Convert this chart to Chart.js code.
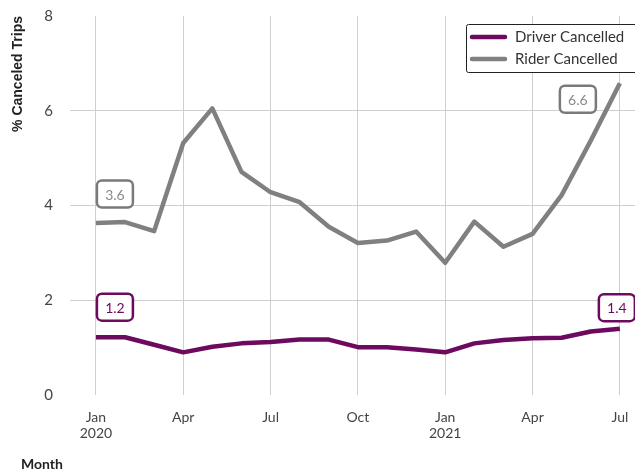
<!DOCTYPE html>
<html>
<head>
  <title>Canceled Trips</title>
  <script src="https://cdn.jsdelivr.net/npm/chart.js"></script>
  <style>
    body { margin: 0; background: #fff; }
  </style>
</head>
<body>
  <canvas id="tripsChart" width="635" height="470"></canvas>

  <script>
    // monthly share of canceled trips, Jan 2020 .. Jul 2021
    const months = [
      "Jan 2020", "Feb 2020", "Mar 2020", "Apr 2020", "May 2020", "Jun 2020",
      "Jul 2020", "Aug 2020", "Sep 2020", "Oct 2020", "Nov 2020", "Dec 2020",
      "Jan 2021", "Feb 2021", "Mar 2021", "Apr 2021", "May 2021", "Jun 2021", "Jul 2021"
    ];
    const driverCancelled = [1.22, 1.22, 1.06, 0.90, 1.02, 1.09, 1.12, 1.17, 1.17, 1.01,
                             1.01, 0.96, 0.90, 1.09, 1.16, 1.20, 1.21, 1.34, 1.40];
    const riderCancelled = [3.63, 3.65, 3.46, 5.32, 6.05, 4.71, 4.28, 4.07, 3.55, 3.21,
                            3.26, 3.45, 2.79, 3.66, 3.13, 3.40, 4.22, 5.37, 6.58];

    const xTickIndex = [0, 3, 6, 9, 12, 15, 18];
    const xTickLabels = [["Jan", "2020"], "Apr", "Jul", "Oct", ["Jan", "2021"], "Apr", "Jul"];
    const yTicks = [0, 2, 4, 6, 8];

    const PURPLE = "#6b0a5e";
    const GREY = "#808080";

    // value boxes: which series/point, and where the box sits relative to the point
    const callouts = [
      { ds: 1, idx: 0, dx: 19, dy: -29, color: "#7a7a7a", text: "#8a8a8a" },
      { ds: 0, idx: 0, dx: 19, dy: -30, color: PURPLE, text: PURPLE },
      { ds: 0, idx: 18, dx: -3, dy: -21, color: PURPLE, text: PURPLE },
      { ds: 1, idx: 18, dx: -42, dy: 16, color: "#7a7a7a", text: "#8a8a8a" }
    ];

    function roundRect(ctx, x, y, w, h, r) {
      ctx.beginPath();
      ctx.moveTo(x + r, y);
      ctx.arcTo(x + w, y, x + w, y + h, r);
      ctx.arcTo(x + w, y + h, x, y + h, r);
      ctx.arcTo(x, y + h, x, y, r);
      ctx.arcTo(x, y, x + w, y, r);
      ctx.closePath();
    }

    const extrasPlugin = {
      id: "extras",
      afterDatasetsDraw(chart) {
        const ctx = chart.ctx;
        const xs = chart.scales.x, ys = chart.scales.y;
        ctx.save();

        // callout boxes
        callouts.forEach(c => {
          const val = chart.data.datasets[c.ds].data[c.idx];
          const cx = xs.getPixelForValue(val.x) + c.dx;
          const cy = ys.getPixelForValue(val.y) + c.dy;
          const w = 36, h = 27;
          roundRect(ctx, cx - w / 2, cy - h / 2, w, h, 5);
          ctx.fillStyle = "#fff";
          ctx.fill();
          ctx.lineWidth = 2.5;
          ctx.strokeStyle = c.color;
          ctx.stroke();
          ctx.fillStyle = c.text;
          ctx.font = "14px Lato";
          ctx.textAlign = "center";
          ctx.textBaseline = "middle";
          ctx.fillText(val.y.toFixed(1), cx, cy + 1);
        });

        // legend box
        roundRect(ctx, 466.5, 24.5, 180, 48, 2);
        ctx.fillStyle = "#fff";
        ctx.fill();
        ctx.lineWidth = 1;
        ctx.strokeStyle = "#222";
        ctx.stroke();
        chart.data.datasets.forEach((ds, i) => {
          const y = 37 + i * 22;
          ctx.beginPath();
          ctx.moveTo(472, y);
          ctx.lineTo(505, y);
          ctx.lineWidth = 4.5;
          ctx.lineCap = "round";
          ctx.strokeStyle = ds.borderColor;
          ctx.stroke();
          ctx.fillStyle = "#333";
          ctx.font = "15px Lato";
          ctx.textAlign = "left";
          ctx.textBaseline = "middle";
          ctx.fillText(ds.label, 515, y);
        });

        // x axis title, bottom left
        ctx.fillStyle = "#222";
        ctx.font = "bold 14px Lato";
        ctx.textAlign = "left";
        ctx.textBaseline = "middle";
        ctx.fillText("Month", 21, 464);
        ctx.restore();
      }
    };

    const tripsChart = new Chart(document.getElementById("tripsChart"), {
      type: "line",
      data: {
        datasets: [
          {
            label: "Driver Cancelled",
            data: driverCancelled.map((v, i) => ({ x: i, y: v })),
            borderColor: PURPLE,
            borderWidth: 4.5,
            pointRadius: 0,
            tension: 0,
            borderJoinStyle: "round"
          },
          {
            label: "Rider Cancelled",
            data: riderCancelled.map((v, i) => ({ x: i, y: v })),
            borderColor: GREY,
            borderWidth: 4.5,
            pointRadius: 0,
            tension: 0,
            borderJoinStyle: "round"
          }
        ]
      },
      options: {
        responsive: false,
        devicePixelRatio: 1,
        animation: false,
        layout: { padding: { top: 16, right: 0, bottom: 30, left: 0 } },
        plugins: {
          legend: { display: false },
          tooltip: { enabled: false }
        },
        scales: {
          x: {
            type: "linear",
            min: -0.89,
            max: 18.52,
            afterBuildTicks: scale => { scale.ticks = xTickIndex.map(v => ({ value: v })); },
            afterFit: scale => {
              scale.height = 45;
              scale.paddingLeft = 0;
              scale.paddingRight = 0;
            },
            grid: { color: "#cfcfcf", drawTicks: false },
            border: { display: false },
            ticks: {
              padding: 15,
              maxRotation: 0,
              autoSkip: false,
              color: "#444",
              font: { family: "Lato", size: 14, lineHeight: 1.1 },
              callback: v => xTickLabels[xTickIndex.indexOf(v)]
            }
          },
          y: {
            min: 0,
            max: 8,
            afterBuildTicks: scale => { scale.ticks = yTicks.map(v => ({ value: v })); },
            afterFit: scale => {
              scale.width = 70;
              scale.paddingTop = 0;
              scale.paddingBottom = 0;
            },
            grid: {
              color: c => (c.tick.value === 0 || c.tick.value === 8) ? "rgba(0,0,0,0)" : "#cfcfcf",
              drawTicks: false
            },
            border: { display: false },
            ticks: {
              padding: 17,
              color: "#444",
              font: { family: "Lato", size: 15 }
            },
            title: {
              display: true,
              text: "% Canceled Trips",
              align: "end",
              color: "#222",
              font: { family: "Liberation Sans", size: 14, weight: "bold" },
              padding: { top: 10, bottom: 0 }
            }
          }
        }
      },
      plugins: [extrasPlugin]
    });
  </script>
</body>
</html>
